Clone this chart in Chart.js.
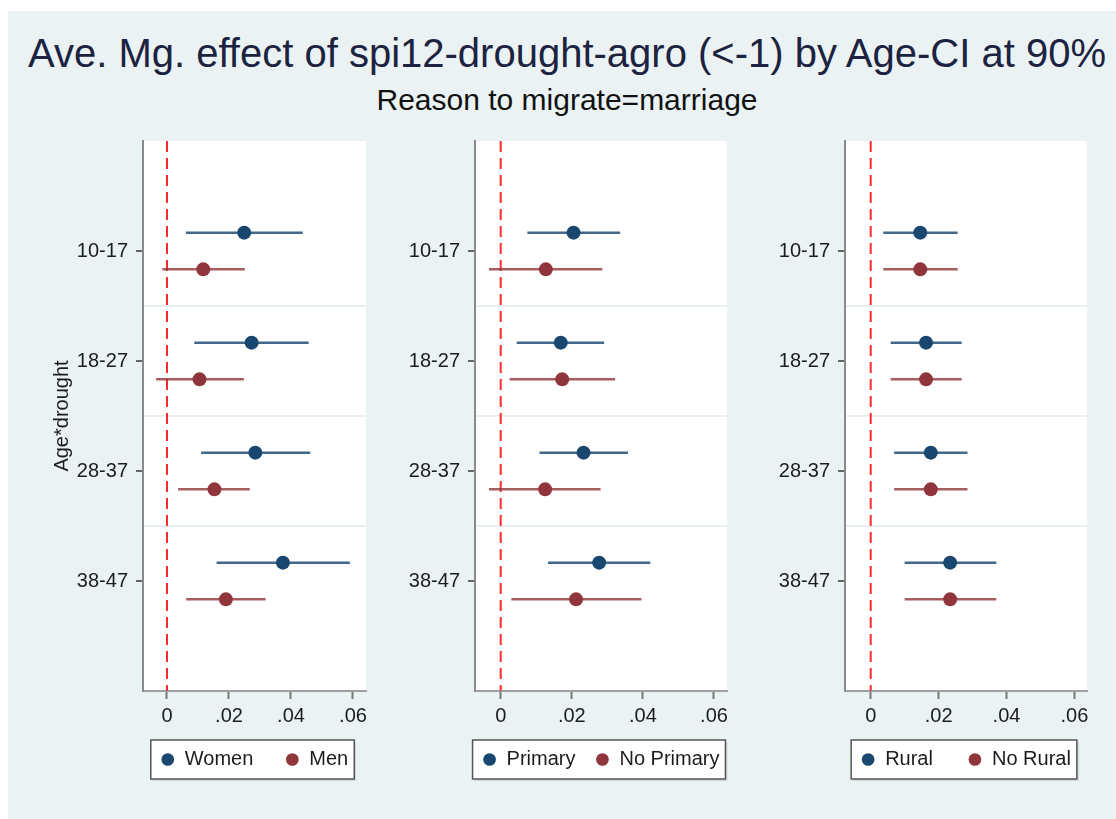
<!DOCTYPE html>
<html><head><meta charset="utf-8">
<script src="https://cdn.jsdelivr.net/npm/chart.js@4/dist/chart.umd.min.js"></script>
<style>
html,body{margin:0;padding:0;background:#fff;overflow:hidden;width:1116px;height:819px;position:relative;}
#bg{position:absolute;left:8px;top:11px;width:1108px;height:808px;background:#eaf2f3;}
.t{position:absolute;font-family:'Liberation Sans',Arial,sans-serif;color:#1c2340;text-align:center;white-space:nowrap;}
#title{left:17px;width:1100px;top:30px;font-size:40px;line-height:46px;}
#sub{left:17px;width:1100px;top:82px;font-size:30px;line-height:35px;color:#111;}
canvas{position:absolute;top:0;}
</style></head><body>
<div id="bg"></div>
<div id="title" class="t">Ave. Mg. effect of spi12-drought-agro (&lt;-1) by Age-CI at 90%</div>
<div id="sub" class="t">Reason to migrate=marriage</div>
<canvas id="c1" width="417" height="819" style="left:46px"></canvas>
<canvas id="c2" width="442" height="819" style="left:380px"></canvas>
<canvas id="c3" width="382" height="819" style="left:775px"></canvas>
<script>
const categories = ['10-17', '18-27', '28-37', '38-47'];
const xTickValues = [0, 0.02, 0.04, 0.06];
const xTickLabels = ['0', '.02', '.04', '.06'];

const womenEst = [0.0249, 0.0273, 0.0285, 0.0374];
const womenLo  = [0.0061, 0.0088, 0.0110, 0.0160];
const womenHi  = [0.0438, 0.0457, 0.0462, 0.0590];
const menEst   = [0.0117, 0.0105, 0.0153, 0.0190];
const menLo    = [-0.0015, -0.0035, 0.0036, 0.0062];
const menHi    = [0.0251, 0.0248, 0.0267, 0.0318];

const primaryEst   = [0.0205, 0.0169, 0.0233, 0.0277];
const primaryLo    = [0.0075, 0.0045, 0.0109, 0.0133];
const primaryHi    = [0.0336, 0.0291, 0.0358, 0.0421];
const noPrimaryEst = [0.0127, 0.0173, 0.0125, 0.0212];
const noPrimaryLo  = [-0.0033, 0.0025, -0.0033, 0.0030];
const noPrimaryHi  = [0.0286, 0.0322, 0.0281, 0.0396];

const ruralEst   = [0.0146, 0.0163, 0.0177, 0.0234];
const ruralLo    = [0.0037, 0.0059, 0.0069, 0.0100];
const ruralHi    = [0.0256, 0.0268, 0.0285, 0.0370];
const noRuralEst = [0.0146, 0.0163, 0.0177, 0.0234];
const noRuralLo  = [0.0037, 0.0059, 0.0069, 0.0100];
const noRuralHi  = [0.0256, 0.0268, 0.0285, 0.0370];

const BLUE = '#1a476f', RED = '#90353b';
const BLUE_LINE = 'rgba(26,71,111,0.82)', RED_LINE = 'rgba(144,53,59,0.8)';
const OFFSET = 0.167;
const FONT = "'Liberation Sans', Arial, sans-serif";
const TXT = '#1c1c1c';

function pts(est, shift) { return est.map((v, i) => ({ x: v, y: i + 1 + shift })); }

const ciPlugin = {
  id: 'ci',
  beforeDraw(chart) {
    const { ctx, chartArea: a } = chart;
    ctx.save();
    ctx.fillStyle = '#fff';
    ctx.fillRect(a.left, a.top, a.right - a.left, a.bottom - a.top);
    const lg = chart.legend;
    if (lg && lg.legendHitBoxes && lg.legendHitBoxes.length) {
      const hb = lg.legendHitBoxes, f = hb[0], l = hb[hb.length - 1];
      const cy = f.top + f.height / 2;
      const x0 = f.left - 10, x1 = l.left + l.width + 6;
      ctx.fillStyle = 'rgba(0,0,0,0.10)';
      ctx.fillRect(x0 + 2, cy - 19.5 + 2, x1 - x0, 39);
      ctx.fillStyle = '#fff';
      ctx.fillRect(x0, cy - 19.5, x1 - x0, 39);
      ctx.strokeStyle = '#555'; ctx.lineWidth = 1.5;
      ctx.strokeRect(x0, cy - 19.5, x1 - x0, 39);
    }
    ctx.restore();
  },
  beforeDatasetsDraw(chart) {
    const { ctx, chartArea: a, scales: { x, y } } = chart;
    ctx.save();
    const zx = x.getPixelForValue(0);
    ctx.strokeStyle = '#ff2a2a'; ctx.lineWidth = 2; ctx.setLineDash([11, 6]);
    ctx.beginPath(); ctx.moveTo(zx, a.top); ctx.lineTo(zx, a.bottom); ctx.stroke();
    ctx.setLineDash([]);
    chart.data.datasets.forEach(ds => {
      ctx.strokeStyle = ds.ciColor; ctx.lineWidth = 2.5;
      ds.data.forEach((p, i) => {
        const py = y.getPixelForValue(p.y);
        ctx.beginPath();
        ctx.moveTo(x.getPixelForValue(ds.ciLo[i]), py);
        ctx.lineTo(x.getPixelForValue(ds.ciHi[i]), py);
        ctx.stroke();
      });
    });
    ctx.restore();
  }
};

function makePanel(id, names, series, xMin, xMax, yWidth, legendGap, showYTitle) {
  const mk = (name, s, color, line, shift) => ({
    label: name, data: pts(s[0], shift), ciLo: s[1], ciHi: s[2], ciColor: line,
    showLine: false, pointRadius: 7, pointHoverRadius: 7,
    backgroundColor: color, borderColor: color, borderWidth: 1,
    pointBackgroundColor: color, pointBorderColor: color, pointBorderWidth: 0,
    yAxisID: 'y'
  });
  const xHeight = 58.5 - legendGap;
  new Chart(document.getElementById(id), {
    type: 'scatter',
    data: { datasets: [mk(names[0], series[0], BLUE, BLUE_LINE, -OFFSET), mk(names[1], series[1], RED, RED_LINE, OFFSET)] },
    options: {
      responsive: false, animation: false, devicePixelRatio: 1,
      layout: { padding: { top: 141, bottom: 39.5, left: 0, right: 0 } },
      plugins: {
        tooltip: { enabled: false },
        legend: {
          position: 'bottom', fullSize: true,
          labels: { usePointStyle: true, pointStyle: 'circle', boxWidth: 14, boxHeight: 9, padding: legendGap,
                    font: { family: FONT, size: 20 }, color: TXT }
        }
      },
      scales: {
        x: {
          type: 'linear', min: xMin, max: xMax,
          afterBuildTicks: s => { s.ticks = xTickValues.map(v => ({ value: v })); },
          afterFit: s => { s.height = xHeight; s._computeLabelArea = () => undefined; },
          grid: { drawOnChartArea: false, drawTicks: true, tickLength: 8, tickColor: '#777', tickWidth: 2 },
          border: { color: '#a0a0a0', width: 2 },
          ticks: { padding: 5, maxRotation: 0, autoSkip: false, font: { family: FONT, size: 20 }, color: TXT,
                   callback: v => { const k = xTickValues.indexOf(v); return k >= 0 ? xTickLabels[k] : ''; } }
        },
        y: {
          type: 'linear', position: 'left', min: 0, max: 5, reverse: true,
          afterBuildTicks: s => { s.ticks = [1, 1.5, 2, 2.5, 3, 3.5, 4].map(v => ({ value: v })); },
          afterFit: s => { s.width = yWidth; },
          grid: {
            color: c => (c.tick && c.tick.value % 1 !== 0) ? '#e8f0f2' : 'rgba(0,0,0,0)',
            lineWidth: 2, drawTicks: true, tickLength: 7, tickWidth: 2,
            tickColor: c => (c.tick && c.tick.value % 1 === 0) ? '#666' : 'rgba(0,0,0,0)'
          },
          border: { display: true, color: '#8a8a8a', width: 2 },
          ticks: { padding: 8, autoSkip: false, font: { family: FONT, size: 20 }, color: TXT,
                   callback: v => (v % 1 === 0 ? categories[v - 1] : '') },
          title: { display: showYTitle, text: 'Age*drought', font: { family: FONT, size: 20 }, color: TXT }
        },
        yRight: {
          type: 'linear', position: 'right', display: true,
          afterFit: s => { s.width = yWidth; },
          grid: { display: false, drawOnChartArea: false, drawTicks: false },
          border: { display: false },
          ticks: { display: false }
        }
      }
    },
    plugins: [ciPlugin]
  });
}

makePanel('c1', ['Women', 'Men'],
  [[womenEst, womenLo, womenHi], [menEst, menLo, menHi]], -0.00774, 0.0642, 97, 32, true);
makePanel('c2', ['Primary', 'No Primary'],
  [[primaryEst, primaryLo, primaryHi], [noPrimaryEst, noPrimaryLo, noPrimaryHi]], -0.00723, 0.06366, 95, 20, false);
makePanel('c3', ['Rural', 'No Rural'],
  [[ruralEst, ruralLo, ruralHi], [noRuralEst, noRuralLo, noRuralHi]], -0.00757, 0.06371, 70, 35, false);
</script>
</body></html>
